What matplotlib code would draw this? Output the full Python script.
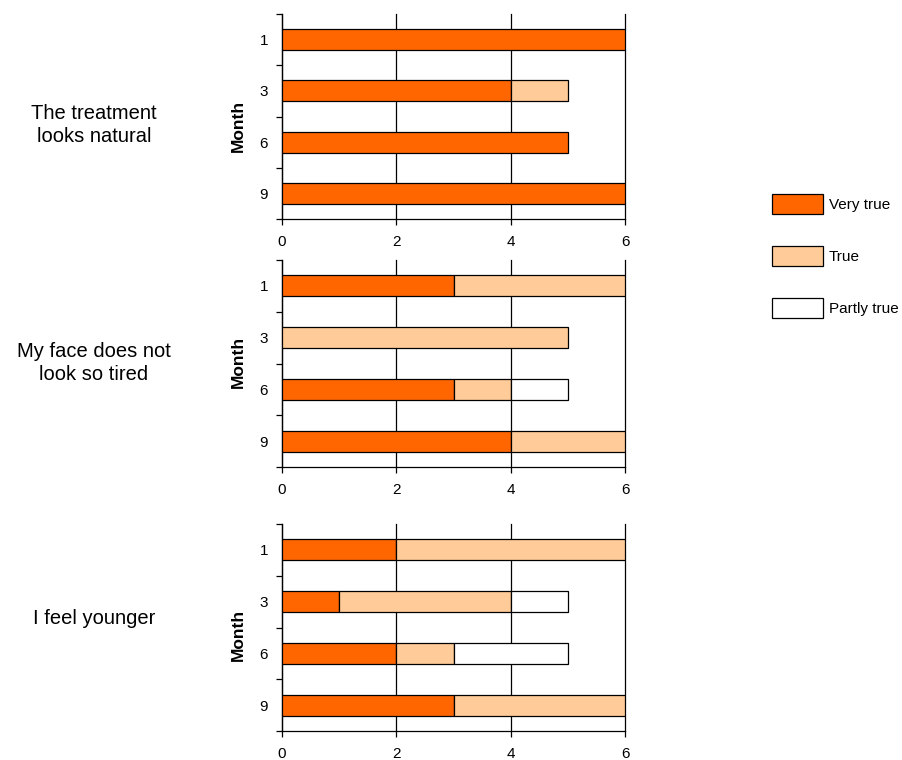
import matplotlib
matplotlib.use("Agg")
import matplotlib.pyplot as plt
from matplotlib.patches import Patch
import numpy as np

plt.rcParams['font.family'] = ['Liberation Sans', 'DejaVu Sans']

months = ["1", "3", "6", "9"]
statements = ["The treatment\nlooks natural", "My face does not\nlook so tired", "I feel younger"]
series_names = ["Very true", "True", "Partly true"]
colors = ["#FF6600", "#FFCC99", "#FFFFFF"]

very_true = [[6, 4, 5, 6], [3, 0, 3, 4], [2, 1, 2, 3]]
true_vals = [[0, 1, 0, 0], [3, 5, 1, 2], [4, 3, 1, 3]]
partly_true = [[0, 0, 0, 0], [0, 0, 1, 0], [0, 1, 2, 0]]
x_ticks = [0, 2, 4, 6]

fig = plt.figure(figsize=(9.02, 7.6), dpi=100)
W, H = 902, 760
left, right = 282, 625
panels = [(14, 219), (260, 467), (524, 731)]
text_pos = [(94, 125), (94, 363), (94, 619)]
month_y = [0.454, 0.507, 0.464]

for i, (top, bot) in enumerate(panels):
    ax = fig.add_axes([left / W, 1 - bot / H, (right - left) / W, (bot - top) / H])
    y = np.arange(len(months))
    data = [very_true[i], true_vals[i], partly_true[i]]
    base = np.zeros(len(months))
    for vals, c in zip(data, colors):
        vals = np.array(vals, dtype=float)
        mask = vals > 0
        ax.barh(y[mask], vals[mask], left=base[mask], height=0.41, color=c,
                edgecolor="black", linewidth=0.9, zorder=3)
        base += vals
    ax.set_xlim(0, 6)
    ax.set_ylim(3.5, -0.5)
    ax.set_xticks(x_ticks)
    ax.set_xticklabels([str(t) for t in x_ticks], fontsize=11)
    ax.set_yticks(y)
    ax.set_yticklabels(months, fontsize=11)
    ax.set_yticks(np.arange(-0.5, 4.0, 1.0), minor=True)
    ax.tick_params(axis='y', which='major', length=0, pad=10)
    ax.tick_params(axis='y', which='minor', length=4, width=0.9, direction='out')
    ax.tick_params(axis='x', length=4, width=0.9, direction='out', pad=7.5)
    ax.grid(axis='x', color='black', linewidth=0.9, zorder=1)
    for gl in ax.get_xgridlines():
        gl.set_clip_on(False)
    ax.set_axisbelow(True)
    for s in ['top', 'right']:
        ax.spines[s].set_visible(False)
    for s in ['left', 'bottom']:
        ax.spines[s].set_linewidth(0.9)
    ax.set_ylabel("Month", fontsize=12.5, fontweight='bold')
    ax.yaxis.set_label_coords((246 - left) / (right - left), month_y[i])
    tx, ty = text_pos[i]
    fig.text(tx / W, 1 - ty / H, statements[i], ha='center', va='center', fontsize=14.5,
             linespacing=1.22)

handles = [Patch(facecolor=c, edgecolor='black', linewidth=0.9) for c in colors]
fig.legend(handles, series_names, loc='center left', bbox_to_anchor=(758 / W, 1 - 256 / H),
           frameon=False, fontsize=11, handlelength=3.33, handleheight=1.6,
           labelspacing=2.1, handletextpad=0.4)

fig.savefig("out.png", dpi=100)
